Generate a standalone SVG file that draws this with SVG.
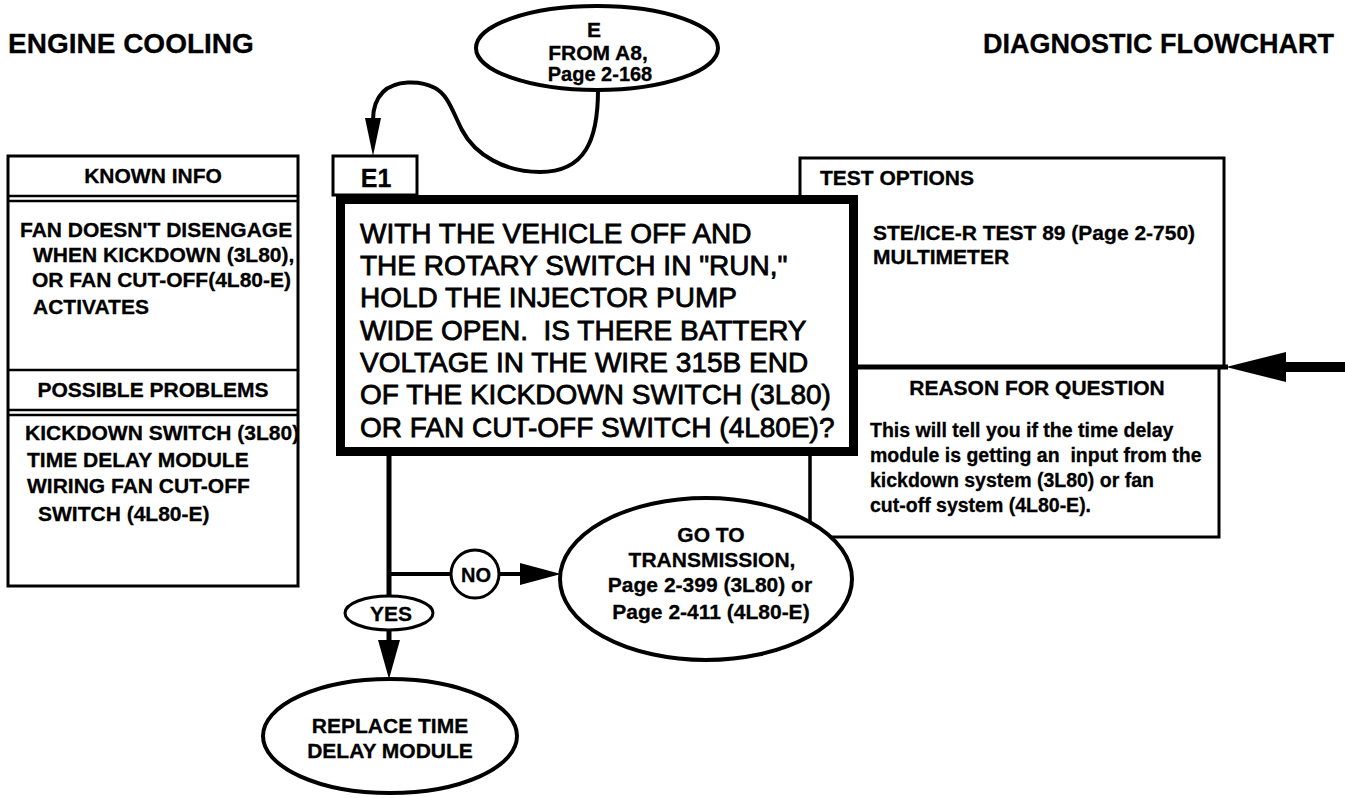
<svg xmlns="http://www.w3.org/2000/svg" width="1345" height="798" viewBox="0 0 1345 798">
<style>
text { font-family: "Liberation Sans", Arial, Helvetica, sans-serif; fill: #000; }
.b { font-weight: bold; stroke: #000; stroke-width: 0.3; }
.m { text-anchor: middle; }
.f21 { font-size: 21px; }
.f20 { font-size: 20px; }
.q { font-size: 28px; font-weight: normal; stroke: #000; stroke-width: 0.8; }
.box { fill: #fff; stroke: #000; stroke-width: 3; }
.ov { fill: #fff; stroke: #000; stroke-width: 4; }
.ln { fill: none; stroke: #000; stroke-width: 4; }
.ah { fill: #000; stroke: none; }
</style>
<rect width="1345" height="798" fill="#fff"/>

<g id="titles">
<text class="b" x="8" y="53" font-size="28">ENGINE COOLING</text>
<text class="b" x="1334" y="53" font-size="27" text-anchor="end">DIAGNOSTIC FLOWCHART</text>
</g>

<g id="left-panel">
<rect class="box" x="8" y="156" width="290" height="430" stroke-width="2.5"/>
<line x1="8" y1="196" x2="298" y2="196" stroke="#000" stroke-width="2.5"/>
<line x1="8" y1="201" x2="298" y2="201" stroke="#000" stroke-width="2.5"/>
<line x1="8" y1="370" x2="298" y2="370" stroke="#000" stroke-width="2.5"/>
<line x1="8" y1="410" x2="298" y2="410" stroke="#000" stroke-width="2.5"/>
<line x1="8" y1="415" x2="298" y2="415" stroke="#000" stroke-width="2.5"/>
<text class="b m f21" x="153" y="183">KNOWN INFO</text>
<text class="b f21" x="20" y="237">FAN DOESN'T DISENGAGE</text>
<text class="b f21" x="33" y="262">WHEN KICKDOWN (3L80),</text>
<text class="b f21" x="32" y="287">OR FAN CUT-OFF(4L80-E)</text>
<text class="b f21" x="33" y="314">ACTIVATES</text>
<text class="b m f21" x="153" y="397">POSSIBLE PROBLEMS</text>
<text class="b f21" x="25" y="440">KICKDOWN SWITCH (3L80)</text>
<text class="b f21" x="27" y="467">TIME DELAY MODULE</text>
<text class="b f21" x="27" y="493">WIRING FAN CUT-OFF</text>
<text class="b f21" x="38" y="521">SWITCH (4L80-E)</text>
</g>

<g id="test-options">
<rect class="box" x="800" y="158" width="424" height="209"/>
<text class="b f21" x="820" y="185">TEST OPTIONS</text>
<text class="b f21" x="873" y="240">STE/ICE-R TEST 89 (Page 2-750)</text>
<text class="b f21" x="873" y="264">MULTIMETER</text>
</g>

<g id="reason">
<rect class="box" x="810" y="367" width="409" height="170"/>
<line x1="850" y1="367" x2="1228" y2="367" stroke="#000" stroke-width="5"/>
<text class="b m f21" x="1037" y="395">REASON FOR QUESTION</text>
<text class="b" font-size="19.5" x="870" y="437">This will tell you if the time delay</text>
<text class="b" font-size="19.5" x="870" y="462">module is getting an &#160;input from the</text>
<text class="b" font-size="19.5" x="870" y="487">kickdown system (3L80) or fan</text>
<text class="b" font-size="19.5" x="870" y="512">cut-off system (4L80-E).</text>
</g>

<g id="E-start">
<ellipse class="ov" cx="597" cy="48" rx="121" ry="42"/>
<text class="b m f21" x="594" y="37">E</text>
<text class="b m f21" x="598" y="60">FROM A8,</text>
<text class="b m f20" x="600" y="81">Page 2-168</text>
</g>

<g id="E1-label">
<rect class="box" x="333" y="156" width="84" height="39"/>
<text class="b m" font-size="25" x="376" y="187">E1</text>
</g>

<g id="connectors">
<path class="ln" d="M598,90 C598,140 585,172 540,172 C505,172 475,155 462,130 C452,110 448,95 435,88 C420,80 395,80 383,92 C375,100 373,110 373,120"/>
<polygon class="ah" points="373,156 365,118 381,118"/>
<line x1="810" y1="456" x2="810" y2="522" stroke="#000" stroke-width="3"/>
<line x1="389" y1="456" x2="389" y2="597" stroke="#000" stroke-width="5"/>
<line x1="389" y1="574" x2="452" y2="574" stroke="#000" stroke-width="4"/>
<line x1="498" y1="574" x2="525" y2="574" stroke="#000" stroke-width="4"/>
<polygon class="ah" points="561,574 520,563 520,585"/>
<line x1="389" y1="629" x2="389" y2="645" stroke="#000" stroke-width="5"/>
<polygon class="ah" points="389,679 378,640 400,640"/>
<line x1="1345" y1="367" x2="1280" y2="367" stroke="#000" stroke-width="10"/>
<polygon class="ah" points="1226,367 1286,352 1286,382"/>
</g>

<g id="E1-question">
<rect x="340.5" y="199.5" width="513" height="252" fill="#fff" stroke="#000" stroke-width="9"/>
<text class="q" x="360" y="243">WITH THE VEHICLE OFF AND</text>
<text class="q" x="360" y="275">THE ROTARY SWITCH IN "RUN,"</text>
<text class="q" x="360" y="307">HOLD THE INJECTOR PUMP</text>
<text class="q" x="360" y="340">WIDE OPEN. &#160;IS THERE BATTERY</text>
<text class="q" x="360" y="372">VOLTAGE IN THE WIRE 315B END</text>
<text class="q" x="360" y="404">OF THE KICKDOWN SWITCH (3L80)</text>
<text class="q" x="360" y="437">OR FAN CUT-OFF SWITCH (4L80E)?</text>
</g>

<g id="no-label">
<circle cx="475" cy="574" r="24" fill="#fff" stroke="#000" stroke-width="3"/>
<text class="b m f20" x="476" y="582">NO</text>
</g>

<g id="yes-label">
<ellipse cx="389" cy="613" rx="44" ry="17" fill="#fff" stroke="#000" stroke-width="3"/>
<text class="b m f21" x="391" y="621">YES</text>
</g>

<g id="go-to-transmission">
<ellipse class="ov" cx="706" cy="579" rx="146" ry="81"/>
<text class="b m f21" x="711" y="542">GO TO</text>
<text class="b m f21" x="712" y="567">TRANSMISSION,</text>
<text class="b m f21" x="710" y="592">Page 2-399 (3L80) or</text>
<text class="b m f21" x="711" y="619">Page 2-411 (4L80-E)</text>
</g>

<g id="replace-module">
<ellipse class="ov" cx="390" cy="736" rx="127" ry="57"/>
<text class="b m f21" x="390" y="733">REPLACE TIME</text>
<text class="b m f21" x="390" y="758">DELAY MODULE</text>
</g>
</svg>
